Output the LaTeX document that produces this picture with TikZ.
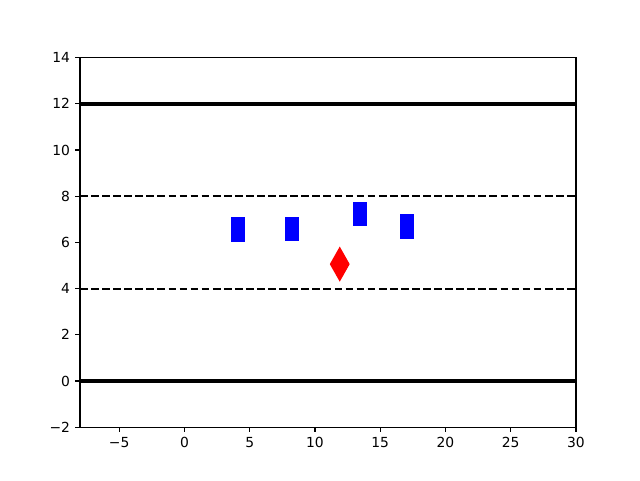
\documentclass[tikz,border=0pt]{standalone}
\usepackage{fontspec}
\setmainfont{DejaVu Sans}
\begin{document}
\begin{tikzpicture}[x=9.7895pt,y=17.325pt,
  spine/.style={line width=0.83pt,black},
  tick/.style={line width=0.83pt,black},
  ticklabel/.style={font=\fontsize{10.4pt}{12pt}\selectfont,inner sep=0pt},
  roadedge/.style={line width=3pt,black},
  laneline/.style={line width=1.56pt,black,dash pattern=on 5.8pt off 2.5pt},
  car/.style={fill=blue,draw=blue,line width=1.04pt},
  ego/.style={fill=red,draw=red,line width=1.04pt,line join=miter}]
\useasboundingbox (-14.129,-4.286) rectangle (34.903,16.494);
\fill[white] (-14.129,-4.286) rectangle (34.903,16.494);
% road lines
\draw[roadedge] (-8,0) -- (30,0);
\draw[roadedge] (-8,12) -- (30,12);
\draw[laneline] (-8,4) -- (30,4);
\draw[laneline] (-8,8) -- (30,8);
% vehicles
\filldraw[car] (3.6,6.05) rectangle (4.6,7.05);
\filldraw[car] (7.73,6.09) rectangle (8.73,7.09);
\filldraw[car] (12.95,6.74) rectangle (13.95,7.74);
\filldraw[car] (16.55,6.18) rectangle (17.55,7.18);
\filldraw[ego] (11.2,5.06) -- (11.9,5.76) -- (12.6,5.06) -- (11.9,4.36) -- cycle;
% axes frame
\draw[spine] (-8,-2) rectangle (30,14);
% x ticks
\foreach \v/\t in {-5/−5,0/0,5/5,10/10,15/15,20/20,25/25,30/30}{
  \draw[tick] (\v,-2) -- ++(0,-3.65pt);
  \node[ticklabel,anchor=north] (xt\v) at ([yshift=-7.3pt]\v,-2) {\t};
}
% y ticks
\foreach \v/\t in {-2/−2,0/0,2/2,4/4,6/6,8/8,10/10,12/12,14/14}{
  \draw[tick] (-8,\v) -- ++(-3.65pt,0);
  \node[ticklabel,anchor=east] (yt\v) at ([xshift=-7.3pt]-8,\v) {\t};
}
\end{tikzpicture}
\end{document}
